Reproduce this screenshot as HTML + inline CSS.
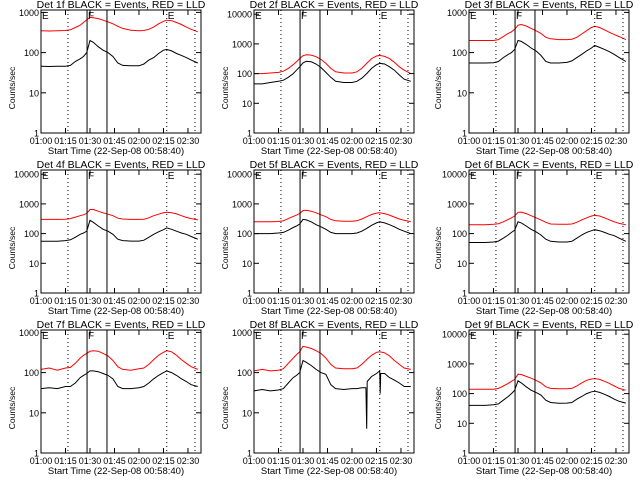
<!DOCTYPE html>
<html><head><meta charset="utf-8"><style>
html,body{margin:0;padding:0;background:#fff;}
svg{display:block;font-family:"Liberation Sans",sans-serif;}
</style></head><body>
<svg id="chart" width="640" height="480" viewBox="0 0 640 480" xmlns="http://www.w3.org/2000/svg">
<rect x="0" y="0" width="640" height="480" fill="#fff"/>
</svg>
<script>
const times=[0,5,10,15,18,21,24,26,28,30,32,35,38,41,44,47,50,55,60,63,66,69,72,75,77,80,83,86,89,92,96];
const times8=[0,5,10,15,18,21,24,26,28,30,32,35,38,41,44,47,50,55,60,63,66,68.5,69,69.3,72,75,77,77.3,77.6,80,83,86,89,92,96];
const black1=[46,45,46,46,48,60,70,80,100,200,180,140,115,100,80,55,48,47,47,52,65,75,95,115,120,110,95,85,75,65,55];
const red1=[350,345,350,355,370,420,480,560,650,750,740,700,640,580,520,450,400,360,350,355,380,430,520,600,640,620,560,500,430,380,330];
const black2=[45,45,50,55,60,75,100,130,170,230,260,250,210,160,110,75,55,50,50,55,70,100,150,200,220,210,170,130,90,65,55];
const red2=[100,100,105,110,120,150,200,250,320,400,430,420,370,300,220,150,115,105,105,115,150,220,320,390,410,380,320,240,170,130,100];
const black3=[55,55,55,56,60,75,90,100,120,200,190,160,130,110,85,60,55,55,57,62,75,90,110,130,150,135,120,105,90,75,60];
const red3=[200,200,200,200,210,250,300,330,380,480,500,460,400,350,300,240,220,210,210,215,240,290,350,420,450,420,370,320,280,250,210];
const black4=[55,55,55,58,62,75,95,105,120,280,240,180,140,120,95,65,58,56,56,60,75,95,115,135,155,140,120,105,95,80,65];
const red4=[300,300,300,305,320,360,400,430,480,650,650,570,500,450,400,330,310,300,300,305,340,400,450,500,520,500,460,400,350,320,290];
const black5=[100,100,100,105,110,130,160,180,210,300,290,250,200,170,140,110,100,100,100,105,120,150,190,230,250,230,200,170,140,120,100];
const red5=[250,250,250,255,270,320,380,420,470,600,610,570,500,430,370,300,270,260,260,270,310,370,440,490,500,470,420,360,310,280,250];
const black6=[50,50,50,52,56,70,90,110,130,250,230,180,140,115,90,65,55,52,52,55,70,90,110,125,135,125,110,95,85,70,55];
const red6=[200,200,200,205,215,250,300,340,390,520,530,470,400,340,290,240,210,205,205,210,240,290,340,390,410,390,340,290,250,220,200];
const black7=[40,42,40,45,45,55,75,85,95,110,110,105,95,85,70,45,40,40,42,45,55,70,85,100,110,100,85,70,60,50,45];
const red7=[120,130,115,130,135,170,230,270,300,340,350,340,300,260,200,140,120,115,125,130,160,210,270,320,350,330,270,210,170,140,120];
const black8=[35,38,35,37,40,55,75,85,100,200,180,150,120,100,90,50,40,38,40,40,42,42,4,60,80,95,110,30,95,95,75,65,55,45,45];
const red8=[110,120,110,115,125,170,230,280,330,450,430,400,350,300,230,160,130,125,125,130,160,210,270,320,330,310,260,200,160,130,120];
const black9=[40,40,40,42,45,60,80,100,130,270,230,170,130,110,90,60,50,47,48,50,65,80,100,115,120,110,95,80,65,55,48];
const red9=[140,140,140,140,150,180,220,260,300,450,440,380,330,280,230,170,150,145,145,150,180,230,280,310,320,300,260,220,180,150,130];
const xTickLabels=["01:00","01:15","01:30","01:45","02:00","02:15","02:30"];
const xTickMinutes=[0,15,30,45,60,75,90];
const dottedMinutes=[16.5,77,94.3];
const solidMinutes=[28.2,40.4];
const panels=[
 {det:1,b:black1,r:red1,bt:times,max:3},{det:2,b:black2,r:red2,bt:times,max:4},{det:3,b:black3,r:red3,bt:times,max:3},
 {det:4,b:black4,r:red4,bt:times,max:4},{det:5,b:black5,r:red5,bt:times,max:4},{det:6,b:black6,r:red6,bt:times,max:4},
 {det:7,b:black7,r:red7,bt:times,max:3},{det:8,b:black8,r:red8,bt:times8,max:3},{det:9,b:black9,r:red9,bt:times,max:4}];
const NS="http://www.w3.org/2000/svg";
const svg=document.getElementById('chart');
function mk(tag,attrs,parent,text){const e=document.createElementNS(NS,tag);for(const k in attrs)e.setAttribute(k,attrs[k]);if(text!==undefined)e.textContent=text;parent.appendChild(e);return e;}
panels.forEach((p,i)=>{
 const col=i%3,row=Math.floor(i/3);
 const ox=col*213,oy=row*160;
 const L=ox+41+(col===2?2:0),R=L+160,T=oy+10,B=oy+133;
 const dec=p.max===3?40.2:29.7;
 const xs=t=>L+t*1.633;
 const ys=v=>B-Math.log10(Math.max(v,0.5))*dec;
 const g=mk('g',{},svg);
 
 
 const title=mk('text',{x:(L+R)/2,y:oy+8,'text-anchor':'middle','font-size':'10.5'},g,'Det '+p.det+'f BLACK = Events, RED = LLD');
 
 
 const pb=p.bt.map((t,k)=>xs(t).toFixed(1)+','+ys(p.b[k]).toFixed(1)).join(' ');
 const pr=times.map((t,k)=>xs(t).toFixed(1)+','+ys(p.r[k]).toFixed(1)).join(' ');
 const lr=mk('polyline',{points:pr,fill:'none',stroke:'#f00','stroke-width':'1'},g);
 
 
 const lb=mk('polyline',{points:pb,fill:'none',stroke:'#000','stroke-width':'1'},g);
 
 
 dottedMinutes.forEach(m=>{const l=mk('line',{x1:xs(m),x2:xs(m),y1:T,y2:B,stroke:'#000','stroke-dasharray':'1,3'},g);
  });
 solidMinutes.forEach(m=>{const l=mk('line',{x1:xs(m),x2:xs(m),y1:T,y2:B,stroke:'#000'},g);
  });
 [[0,'E'],[28.2,'F'],[77,'E']].forEach(a=>{const tx=mk('text',{x:xs(a[0])+1,y:T+9,'font-size':'10'},g,a[1]);
  });
 const fr=mk('rect',{x:L,y:T,width:R-L,height:B-T,fill:'none',stroke:'#000'},g);
 
 
 for(let d=0;d<=p.max;d++){const y=B-d*dec;
  mk('line',{x1:L,x2:L+5,y1:y,y2:y,stroke:'#000'},g);mk('line',{x1:R-5,x2:R,y1:y,y2:y,stroke:'#000'},g);
  const tl=mk('text',{x:L-2,y:y+3.5,'text-anchor':'end','font-size':'9'},g,String(Math.pow(10,d)));
  
 }
 xTickMinutes.forEach((m,k)=>{const x=xs(m);
  mk('line',{x1:x,x2:x,y1:B,y2:B-5,stroke:'#000'},g);mk('line',{x1:x,x2:x,y1:T,y2:T+5,stroke:'#000'},g);
  const tl=mk('text',{x:x,y:B+11,'text-anchor':'middle','font-size':'9'},g,xTickLabels[k]);
  });
 const xl=mk('text',{x:(L+R)/2-5,y:B+21,'text-anchor':'middle','font-size':'9.5'},g,'Start Time (22-Sep-08 00:58:40)');
 
 const yl=mk('text',{x:0,y:0,'text-anchor':'middle','font-size':'8.5',transform:'translate('+(ox+15)+','+(oy+88)+') rotate(-90)'},g,'Counts/sec');
 
});
</script>
</body></html>
